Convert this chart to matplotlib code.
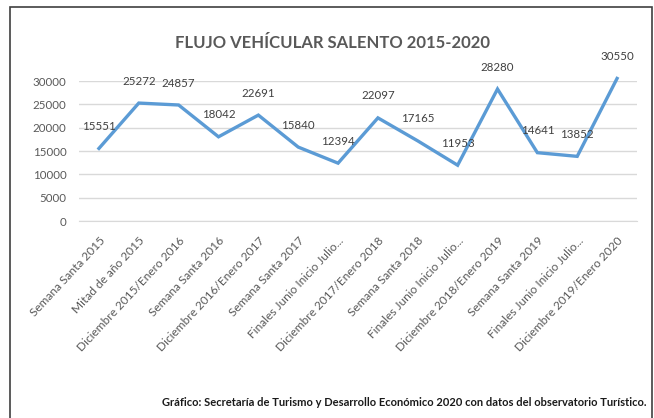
import matplotlib

matplotlib.use("Agg")

import matplotlib.pyplot as plt
from matplotlib.patches import Rectangle


TITLE = "FLUJO VEHÍCULAR SALENTO 2015-2020"

SOURCE = (
    "Gráfico: Secretaría de Turismo y Desarrollo Económico 2020 "
    "con datos del observatorio Turístico."
)

PERIODS = [
    "Semana Santa 2015",
    "Mitad de año 2015",
    "Diciembre 2015/Enero 2016",
    "Semana Santa 2016",
    "Diciembre 2016/Enero 2017",
    "Semana Santa 2017",
    "Finales Junio Inicio Julio...",
    "Diciembre 2017/Enero 2018",
    "Semana Santa 2018",
    "Finales Junio Inicio Julio...",
    "Diciembre 2018/Enero 2019",
    "Semana Santa 2019",
    "Finales Junio Inicio Julio...",
    "Diciembre 2019/Enero 2020",
]

VEHICLES = [
    15551,
    25272,
    24857,
    18042,
    22691,
    15840,
    12394,
    22097,
    17165,
    11953,
    28280,
    14641,
    13852,
    30550,
]

Y_TICKS = [0, 5000, 10000, 15000, 20000, 25000, 30000]

LINE_BLUE = "#5B9BD5"
TEXT_GRAY = "#595959"
LABEL_GRAY = "#404040"
GRID_GRAY = "#D9D9D9"


def main():

    plt.rcParams["font.family"] = ["Lato", "DejaVu Sans"]

    fig = plt.figure(figsize=(6.54, 4.18), dpi=100)

    # outer frame of the pasted chart
    fig.add_artist(
        Rectangle(
            (10 / 654, -0.05),
            642 / 654,
            1.05 - 7 / 418,
            transform=fig.transFigure,
            fill=False,
            edgecolor="#404040",
            linewidth=1.2,
        )
    )

    ax = fig.add_axes([79 / 654, 1 - 221 / 418, 558 / 654, 140 / 418])

    x = list(range(len(PERIODS)))

    ax.plot(
        x,
        VEHICLES,
        color=LINE_BLUE,
        linewidth=2.4,
        solid_joinstyle="miter",
        clip_on=False,
        zorder=3,
    )

    for xi, value in zip(x, VEHICLES):
        ax.annotate(
            str(value),
            (xi, value),
            xytext=(0, 22),
            textcoords="offset pixels",
            ha="center",
            va="center",
            fontsize=8.3,
            color=LABEL_GRAY,
            annotation_clip=False,
            zorder=4,
        )

    ax.set_xlim(-0.5, len(PERIODS) - 0.5)
    ax.set_ylim(0, 30000)
    ax.set_yticks(Y_TICKS)
    ax.set_yticklabels([str(t) for t in Y_TICKS])

    ax.set_xticks(x)
    ax.set_xticklabels(
        PERIODS,
        rotation=47,
        ha="right",
        va="top",
        rotation_mode="anchor",
    )

    ax.tick_params(axis="x", length=0, pad=10, labelsize=8.6, labelcolor=TEXT_GRAY)
    ax.tick_params(axis="y", length=0, pad=9, labelsize=8.3, labelcolor=TEXT_GRAY)

    ax.grid(axis="y", color=GRID_GRAY, linewidth=1)
    ax.set_axisbelow(True)

    for side in ["top", "right", "left"]:
        ax.spines[side].set_visible(False)
    ax.spines["bottom"].set_color(GRID_GRAY)

    fig.text(
        333 / 654,
        1 - 43 / 418,
        TITLE,
        ha="center",
        va="center",
        fontsize=12,
        fontweight="bold",
        color=TEXT_GRAY,
    )

    fig.text(
        647 / 654,
        1 - 402 / 418,
        SOURCE,
        ha="right",
        va="center",
        fontsize=8,
        fontweight="bold",
        color="#1a1a1a",
    )

    fig.savefig("out.png", dpi=100)

    plt.close(fig)


if __name__ == "__main__":

    main()
